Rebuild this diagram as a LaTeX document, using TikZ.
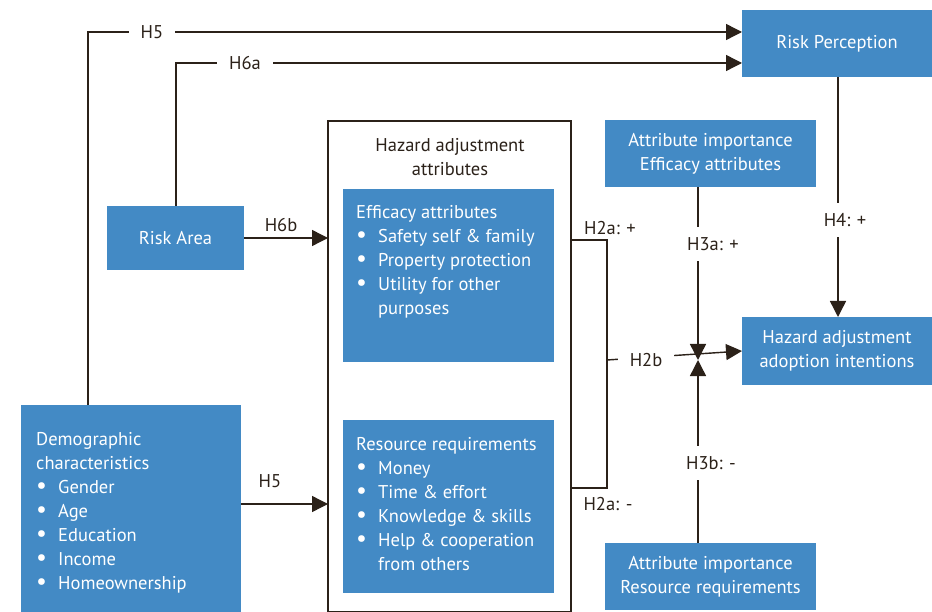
\documentclass[tikz,border=0pt]{standalone}
\usepackage{fontspec}
\setmainfont{PT Sans}
\usetikzlibrary{arrows.meta}
\definecolor{boxblue}{HTML}{438AC5}
\definecolor{ink}{HTML}{2B2119}
\newcommand{\bul}{\makebox[22pt][l]{\smash{\scalebox{1.3}{\textbullet}}}}
\begin{document}
\begin{tikzpicture}[x=1pt,y=-1pt,
  font=\fontsize{18.5}{24}\selectfont,
  bluebox/.style={fill=boxblue,draw=none,inner sep=0pt,outer sep=0pt,anchor=north west},
  framebox/.style={fill=white,draw=ink,line width=1.3pt,inner sep=0pt,outer sep=0pt,anchor=north west},
  wtext/.style={text=white,align=center,inner sep=0pt},
  ltext/.style={text=white,align=left,inner sep=0pt,anchor=base west},
  conn/.style={draw=ink,line width=1.4pt},
  arr/.style={conn,-{Triangle[length=16pt,width=16pt]}},
  hlab/.style={text=ink,fill=white,inner xsep=12pt,inner ysep=10pt},
  plab/.style={text=ink,inner sep=0pt}]
\useasboundingbox (0,0) rectangle (932,612);
% boxes
\node[bluebox,minimum width=190pt,minimum height=67pt] (rp) at (742,10) {};
\node[bluebox,minimum width=137pt,minimum height=64pt] (ra) at (107,206) {};
\node[bluebox,minimum width=211pt,minimum height=67pt] (ae) at (605,120) {};
\node[bluebox,minimum width=190pt,minimum height=68pt] (ha) at (742,317) {};
\node[bluebox,minimum width=211pt,minimum height=67pt] (ar) at (605,543) {};
\node[framebox,minimum width=243pt,minimum height=491pt] (big) at (328,121) {};
\node[bluebox,minimum width=211pt,minimum height=173pt] (eff) at (343,189) {};
\node[bluebox,minimum width=211pt,minimum height=173pt] (res) at (343,420) {};
\node[bluebox,minimum width=220pt,minimum height=220pt] (demo) at (21,405) {};
% texts
\node[wtext] (rpt) at (rp.center) {Risk Perception};
\node[wtext] (rat) at (ra.center) {Risk Area};
\node[wtext] (aet) at (ae.center) {Attribute importance\\Efficacy attributes};
\node[wtext] (hat) at (ha.center) {Hazard adjustment\\adoption intentions};
\node[wtext] (art) at (ar.center) {Attribute importance\\Resource requirements};
\node[plab,align=center] (bigt) at (450,157) {Hazard adjustment\\attributes};
\node[ltext] (efft) at (356,315) {Efficacy attributes\\\bul Safety self \& family\\\bul Property protection\\\bul Utility for other\\\hspace*{22pt}purposes};
\node[ltext] (rest) at (356,570) {Resource requirements\\\bul Money\\\bul Time \& effort\\\bul Knowledge \& skills\\\bul Help \& cooperation\\\hspace*{22pt}from others};
\node[ltext] (demot) at (36,589) {Demographic\\characteristics\\\bul Gender\\\bul Age\\\bul Education\\\bul Income\\\bul Homeownership};
% coordinates
\coordinate (d1) at (88,405);
\coordinate (r1) at (742,32);
\coordinate (a1) at (176,206);
\coordinate (r2) at (742,63);
\coordinate (b1) at (571,240);
\coordinate (b2) at (607,240);
\coordinate (b3) at (607,488);
\coordinate (b4) at (571,488);
\coordinate (mid) at (698,360);
\coordinate (h2) at (607,360);
\coordinate (aeb) at (698,187);
\coordinate (art0) at (698,543);
\coordinate (rpb) at (838,77);
\coordinate (hat0) at (838,317);
% connectors
\draw[arr] (d1) |- (r1);
\node[hlab] (l5a) at (152,32) {H5};
\draw[arr] (a1) |- (r2);
\node[hlab] (l6a) at (245,63) {H6a};
\draw[arr] (ra.east) -- (ra.east -| big.west);
\node[plab] (l6b) at (281,225) {H6b};
\draw[arr] (demo.east |- 0,504) -- (big.west |- 0,504);
\node[plab] (l5b) at (270,481) {H5};
\draw[conn] (b1) -- (b2) -- (b3) -- (b4);
\node[plab] (l2ap) at (610,228) {H2a: +};
\node[plab] (l2am) at (608,504) {H2a: -};
\draw[arr] (aeb) -- (mid);
\node[hlab] (l3a) at (713,244) {H3a: +};
\draw[arr] (art0) -- (mid);
\node[hlab] (l3b) at (711,463) {H3b: -};
\draw[arr] (h2) -- (ha.west);
\node[hlab] (l2b) at (646,360) {H2b};
\draw[arr] (rpb) -- (hat0);
\node[hlab] (l4) at (845,220) {H4: +};
\end{tikzpicture}
\end{document}
